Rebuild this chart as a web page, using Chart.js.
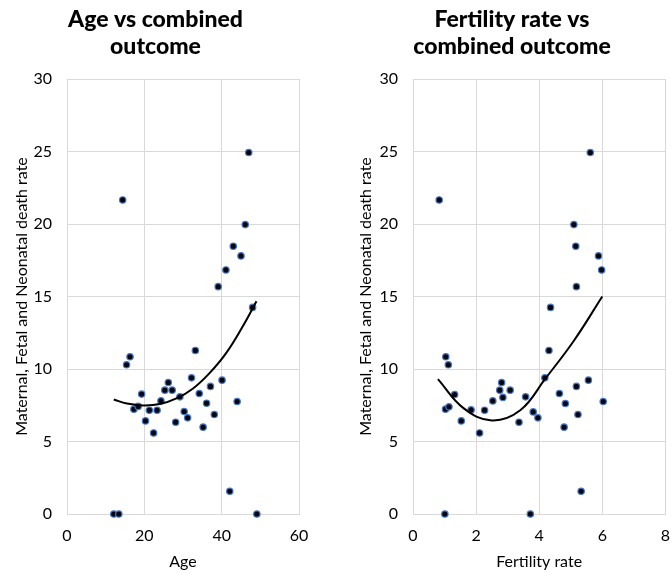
<!DOCTYPE html>
<html><head><meta charset="utf-8">
<script src="https://cdn.jsdelivr.net/npm/chart.js@4/dist/chart.umd.min.js"></script>
<style>
html,body{margin:0;padding:0;background:#fff;overflow:hidden;width:672px;height:574px;position:relative}
canvas{position:absolute;top:0}
#c1{left:0}
#c2{left:346px}
</style></head><body>
<canvas id="c1" width="336" height="574"></canvas>
<canvas id="c2" width="336" height="574"></canvas>
<script>
// Outcome: maternal, fetal and neonatal death rate
const ageValues = [12.1, 13.4, 49.1, 42.1, 47.0, 14.4, 46.1, 43.0, 45.0, 41.1, 39.1, 48.0, 15.4, 16.3, 33.2, 17.3, 18.4, 19.3, 20.3, 21.3, 22.4, 23.3, 24.3, 25.3, 26.2, 27.2, 28.1, 29.2, 30.3, 31.2, 32.2, 34.2, 35.2, 36.1, 37.1, 38.1, 40.1, 44.0];
const ageRates = [0, 0, 0, 1.57, 24.93, 21.66, 19.96, 18.47, 17.8, 16.83, 15.68, 14.25, 10.29, 10.84, 11.28, 7.23, 7.42, 8.27, 6.42, 7.16, 5.59, 7.16, 7.80, 8.54, 9.07, 8.54, 6.33, 8.08, 7.07, 6.63, 9.39, 8.31, 5.99, 7.64, 8.80, 6.86, 9.23, 7.76];

const fertilityValues = [5.62, 0.83, 5.10, 5.16, 5.88, 5.98, 5.18, 4.36, 1.04, 1.12, 4.31, 1.32, 1.03, 1.14, 1.53, 1.84, 2.11, 2.27, 2.53, 2.75, 2.81, 2.85, 3.08, 3.36, 3.57, 3.81, 3.96, 4.18, 4.64, 4.79, 4.83, 5.18, 5.23, 5.56, 6.03, 5.33, 1.01, 3.72];
const fertilityRates = [24.93, 21.66, 19.96, 18.47, 17.8, 16.83, 15.68, 14.25, 10.84, 10.29, 11.28, 8.24, 7.23, 7.39, 6.42, 7.18, 5.59, 7.16, 7.80, 8.54, 9.07, 8.04, 8.54, 6.33, 8.08, 7.04, 6.63, 9.39, 8.31, 5.99, 7.62, 8.80, 6.86, 9.23, 7.76, 1.57, 0, 0];

// Polynomial trendlines
const ageTrendX = [12.1, 15.5, 19.7, 24.0, 28.3, 32.6, 36.8, 41.1, 45.4, 49.0];
const ageTrendY = [7.90, 7.62, 7.49, 7.58, 7.97, 8.66, 9.70, 11.08, 12.92, 14.67];
const fertTrendX = [0.79, 1.6, 2.5, 3.4, 4.2, 5.1, 6.0];
const fertTrendY = [9.30, 7.30, 6.45, 7.15, 9.35, 11.95, 15.0];

const yTicks = [0, 5, 10, 15, 20, 25, 30];
const ageTicks = [0, 20, 40, 60];
const fertTicks = [0, 2, 4, 6, 8];

const FONT = 'Lato, "Open Sans", sans-serif';
const GRID = '#d9d9d9';

function makeChart(id, xs, ys, tx, ty, xTicks, xTitle, titleLines, padLeft, padRight) {
  const pts = xs.map((x, i) => ({x: x, y: ys[i]}));
  const trend = tx.map((x, i) => ({x: x, y: ty[i]}));
  return new Chart(document.getElementById(id), {
    type: 'scatter',
    data: {
      datasets: [
        {type: 'line', data: trend, borderColor: '#000', borderWidth: 2, pointRadius: 0, tension: 0.4, fill: false, clip: false},
        {data: pts, backgroundColor: '#05070f', borderColor: '#4a78c8', borderWidth: 1.2, pointRadius: 3.2, clip: false}
      ]
    },
    options: {
      responsive: false,
      animation: false,
      layout: {padding: {left: padLeft, right: padRight, top: 0, bottom: 0}},
      plugins: {
        legend: {display: false},
        tooltip: {enabled: false},
        title: {
          display: true, text: titleLines, color: '#000',
          font: {family: FONT, size: 23, weight: 900, lineHeight: 1.174},
          padding: {top: 6, bottom: 19}
        }
      },
      scales: {
        x: {
          type: 'linear', min: xTicks[0], max: xTicks[xTicks.length - 1],
          afterBuildTicks: s => { s.ticks = xTicks.map(v => ({value: v})); },
          afterFit: s => { s.height = 60; },
          ticks: {color: '#000', font: {family: FONT, size: 16}, padding: 12},
          grid: {color: GRID, lineWidth: 1, drawTicks: false},
          border: {color: GRID, width: 1},
          title: {display: true, text: xTitle, color: '#000', font: {family: FONT, size: 16}, padding: {top: 0, bottom: 3}}
        },
        y: {
          type: 'linear', min: 0, max: 30,
          afterBuildTicks: s => { s.ticks = yTicks.map(v => ({value: v})); },
          afterFit: s => { s.width = 67 - padLeft; },
          ticks: {color: '#000', font: {family: FONT, size: 16}, padding: 15},
          grid: {color: GRID, lineWidth: 1, drawTicks: false},
          border: {color: GRID, width: 1},
          title: {display: true, text: 'Maternal, Fetal and Neonatal death rate', color: '#000', font: {family: FONT, size: 16}, padding: {top: 0, bottom: 0}}
        }
      }
    }
  });
}

makeChart('c1', ageValues, ageRates, ageTrendX, ageTrendY, ageTicks, 'Age', ['Age vs combined', 'outcome'], 12, 37);
makeChart('c2', fertilityValues, fertilityRates, fertTrendX, fertTrendY, fertTicks, 'Fertility rate', ['Fertility rate vs', 'combined outcome'], 10, 14);
</script>
</body></html>
